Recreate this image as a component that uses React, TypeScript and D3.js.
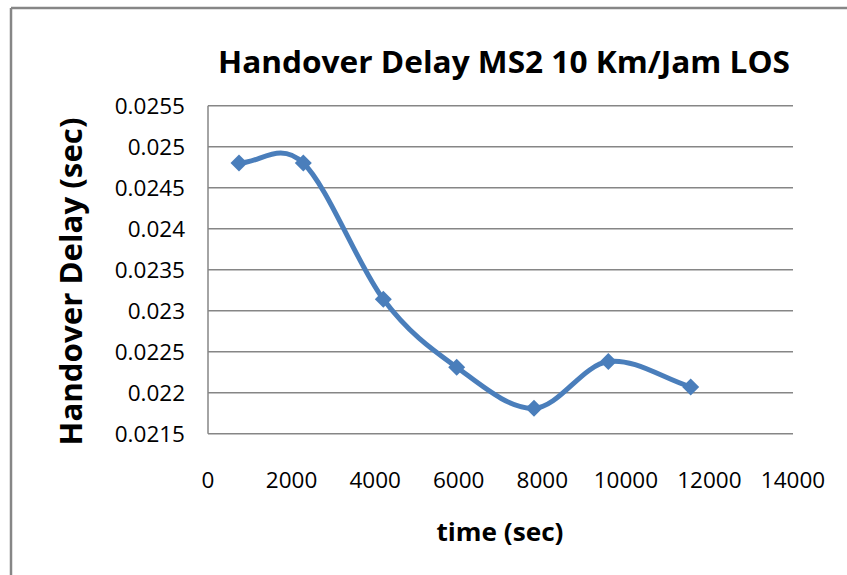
import React from "react";
import * as d3 from "d3";

const timeSec = [742, 2281, 4196, 5951, 7802, 9580, 11551];
const delaySec = [0.0248, 0.0248, 0.02314, 0.02231, 0.02181, 0.02238, 0.02207];
const xTicks = [0, 2000, 4000, 6000, 8000, 10000, 12000, 14000];
const yTicks = [0.0215, 0.022, 0.0225, 0.023, 0.0235, 0.024, 0.0245, 0.025, 0.0255];
const yTickLabels = ["0.0215", "0.022", "0.0225", "0.023", "0.0235", "0.024", "0.0245", "0.025", "0.0255"];

const W = 847;
const H = 575;
const left = 208;
const right = 793;
const top = 105.7;
const bottom = 433.7;

export default function App() {
  const x = d3.scaleLinear().domain([0, 14000]).range([left, right]);
  const y = d3.scaleLinear().domain([0.0215, 0.0255]).range([bottom, top]);
  const pts = timeSec.map((t, i) => [x(t), y(delaySec[i])] as [number, number]);
  // Excel-like smoothing: cubic Bezier with tangents (p[i+1]-p[i-1])/6
  const p = d3.path();
  p.moveTo(pts[0][0], pts[0][1]);
  for (let i = 0; i < pts.length - 1; i++) {
    const p0 = pts[Math.max(0, i - 1)];
    const p1 = pts[i];
    const p2 = pts[i + 1];
    const p3 = pts[Math.min(pts.length - 1, i + 2)];
    const k1 = i === 0 ? 1 / 3 : 1 / 6;
    const k2 = i + 2 > pts.length - 1 ? 1 / 3 : 1 / 6;
    const c1x = p1[0] + (p2[0] - p0[0]) * k1;
    const c1y = p1[1] + (p2[1] - p0[1]) * k1;
    const c2x = p2[0] - (p3[0] - p1[0]) * k2;
    const c2y = p2[1] - (p3[1] - p1[1]) * k2;
    p.bezierCurveTo(c1x, c1y, c2x, c2y, p2[0], p2[1]);
  }
  const line = p.toString();
  const grid = "#868686";
  const blue = "#4A7EBB";
  const font = "'Open Sans', 'Noto Sans', sans-serif";
  const h = 8.5;
  return (
    <svg width={W} height={H} style={{ position: "absolute", left: 0, top: 0, background: "#fff" }}>
      <rect x={0} y={0} width={W} height={H} fill="#fff" />
      <line x1={11} y1={8} x2={W} y2={8} stroke={grid} strokeWidth={2.5} />
      <line x1={11} y1={8} x2={11} y2={H} stroke={grid} strokeWidth={2.5} />
      {yTicks.map((v) => (
        <line key={"g" + v} x1={left} x2={right} y1={y(v)} y2={y(v)} stroke={grid} strokeWidth={1.5} />
      ))}
      <line x1={left} x2={left} y1={top} y2={bottom} stroke={grid} strokeWidth={1.5} />
      {yTicks.map((v, i) => (
        <text key={"yl" + v} x={185} y={y(v)} dy="0.36em" textAnchor="end" fontFamily={font} fontSize={22.5} fill="#000">
          {yTickLabels[i]}
        </text>
      ))}
      {xTicks.map((v) => (
        <text key={"xl" + v} x={x(v)} y={488} textAnchor="middle" fontFamily={font} fontSize={22.5} fill="#000">
          {v}
        </text>
      ))}
      <path d={line} fill="none" stroke={blue} strokeWidth={5} strokeLinecap="round" />
      {pts.map(([px, py], i) => (
        <path key={"m" + i} d={`M${px},${py - h}L${px + h},${py}L${px},${py + h}L${px - h},${py}Z`} fill={blue} />
      ))}
      <text x={504} y={73} textAnchor="middle" fontFamily={font} fontWeight="bold" fontSize={31} textLength={572} lengthAdjust="spacingAndGlyphs" fill="#000">
        Handover Delay MS2 10 Km/Jam LOS
      </text>
      <text x={500} y={541} textAnchor="middle" fontFamily={font} fontWeight="bold" fontSize={25} textLength={127} lengthAdjust="spacingAndGlyphs" fill="#000">
        time (sec)
      </text>
      <text transform="translate(82,281.5) rotate(-90)" x={0} y={0} textAnchor="middle" fontFamily={font} fontWeight="bold" fontSize={31} textLength={328} lengthAdjust="spacingAndGlyphs" fill="#000">
        Handover Delay (sec)
      </text>
    </svg>
  );
}
